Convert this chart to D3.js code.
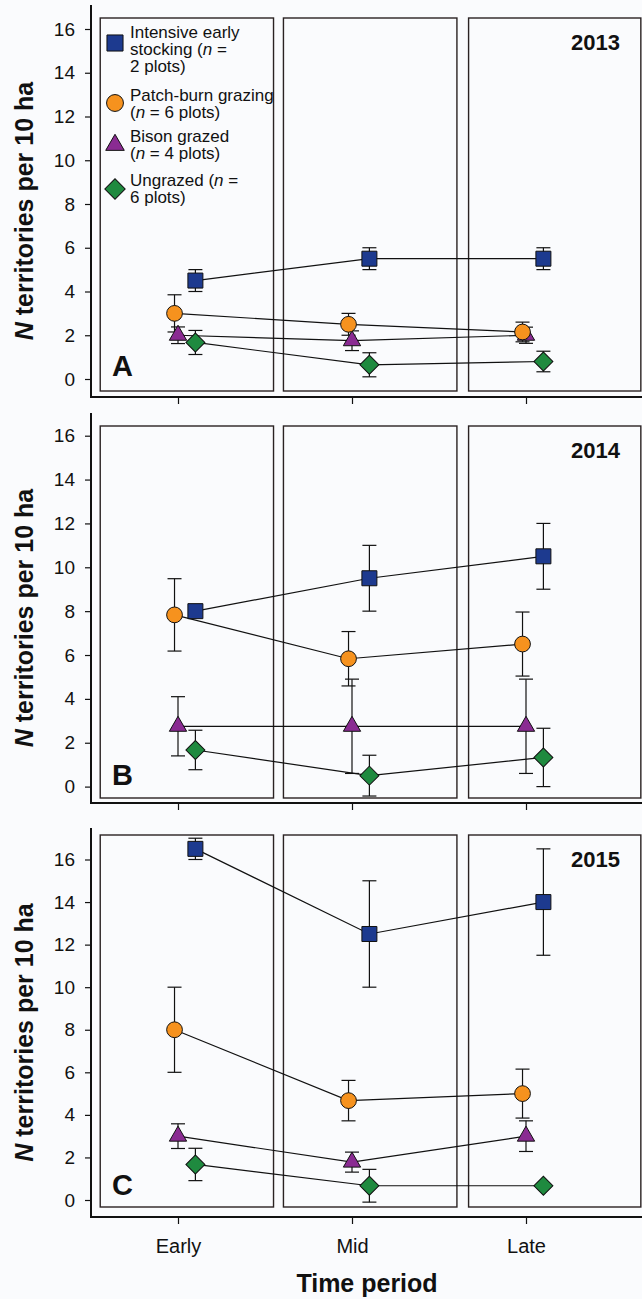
<!DOCTYPE html>
<html>
<head>
<meta charset="utf-8">
<script src="https://cdn.jsdelivr.net/npm/d3@7"></script>
<style>
  body { margin: 0; background: #fafbfd; }
  svg { display: block; font-family: Arial, "Liberation Sans", sans-serif; }
</style>
</head>
<body>
<div id="chart"></div>
<script>
// periods on the x axis, one panel per year
const periods = ['Early', 'Mid', 'Late'];
const years = ['2013', '2014', '2015'];
const panelLetters = ['A', 'B', 'C'];
const yTicks = [0, 2, 4, 6, 8, 10, 12, 14, 16];

// means per year (rows) and period (columns), plus +/- error
const intensiveMean = [[4.5, 5.5, 5.5], [8.0, 9.5, 10.5], [16.5, 12.5, 14.0]];
const intensiveErr  = [[0.5, 0.5, 0.5], [0, 1.5, 1.5], [0.5, 2.5, 2.5]];
const patchMean = [[3.0, 2.5, 2.15], [7.83, 5.83, 6.5], [8.0, 4.67, 5.0]];
const patchErr  = [[0.85, 0.5, 0.45], [1.65, 1.24, 1.46], [2.0, 0.95, 1.15]];
const bisonMean = [[2.0, 1.75, 2.0], [2.75, 2.75, 2.75], [3.0, 1.78, 3.0]];
const bisonErr  = [[0.38, 0.45, 0.37], [1.35, 2.15, 2.15], [0.58, 0.47, 0.72]];
const ungrazedMean = [[1.67, 0.65, 0.8], [1.67, 0.5, 1.33], [1.67, 0.67, 0.67]];
const ungrazedErr  = [[0.55, 0.55, 0.47], [0.9, 0.93, 1.33], [0.76, 0.77, 0]];

const seriesNames = [
  ['Intensive early', 'stocking (|n| =', '2 plots)'],
  ['Patch-burn grazing', '(|n| = 6 plots)'],
  ['Bison grazed', '(|n| = 4 plots)'],
  ['Ungrazed (|n| =', '6 plots)']
];

const width = 642, height = 1299;
const svg = d3.select('#chart').append('svg')
  .attr('width', width).attr('height', height);

// pixel layout of the three stacked panels
const panels = [
  {y16: 29,    y0: 379,  axisTop: 5,   boxTop: 18,  boxBottom: 391,  axisBottom: 397,  letterY: 376,  yearY: 50},
  {y16: 435.7, y0: 786.6, axisTop: 413, boxTop: 426, boxBottom: 798,  axisBottom: 803,  letterY: 785,  yearY: 458},
  {y16: 859.5, y0: 1200, axisTop: 828, boxTop: 835, boxBottom: 1207, axisBottom: 1217, letterY: 1195, yearY: 867}
];
const axisLeftX = 91;
const boxes = [[0.553, 1.549], [1.606, 2.603], [2.67, 3.66]];

const x = d3.scaleLinear().domain([1, 3]).range([178, 526]);

const series = [
  {mean: intensiveMean, err: intensiveErr, dx: 0.1,   color: '#1d3a8f', shape: 'square'},
  {mean: patchMean,     err: patchErr,     dx: -0.02, color: '#f6921e', shape: 'circle'},
  {mean: bisonMean,     err: bisonErr,     dx: 0,     color: '#8a2b92', shape: 'triangle'},
  {mean: ungrazedMean,  err: ungrazedErr,  dx: 0.1,   color: '#1f8a3f', shape: 'diamond'}
];

function symbolPath(shape, big) {
  const k = big ? 1.15 : 1;
  if (shape === 'square') return d3.symbol(d3.symbolSquare, 225 * k)();
  if (shape === 'circle') return d3.symbol(d3.symbolCircle, 195 * k)();
  if (shape === 'triangle') return d3.symbol(d3.symbolTriangle, 130 * k)();
  return d3.symbol(d3.symbolSquare, 180 * k)();
}
function symbolRot(shape) { return shape === 'diamond' ? ' rotate(45)' : ''; }

panels.forEach((p, pi) => {
  const y = d3.scaleLinear().domain([0, 16]).range([p.y0, p.y16]);
  const g = svg.append('g');

  // period boxes
  g.selectAll('rect.box').data(boxes).join('rect')
    .attr('class', 'box')
    .attr('x', d => x(d[0]))
    .attr('width', d => x(d[1]) - x(d[0]))
    .attr('y', p.boxTop)
    .attr('height', p.boxBottom - p.boxTop)
    .attr('fill', 'none')
    .attr('stroke', '#2a2222')
    .attr('stroke-width', 1.4);

  // axes
  const yAxis = d3.axisLeft(y).tickValues(yTicks).tickSize(6).tickPadding(10);
  const gy = g.append('g').attr('transform', `translate(${axisLeftX},0)`).call(yAxis);
  gy.select('.domain').remove();
  gy.selectAll('text').style('font-size', '19px').attr('fill', '#111');
  gy.selectAll('line').attr('stroke', '#111').attr('stroke-width', 1.2);

  const xAxis = d3.axisBottom(x).tickValues([1, 2, 3]).tickSize(7).tickPadding(15)
    .tickFormat((d, i) => pi === 2 ? periods[i] : '');
  const gx = g.append('g').attr('transform', `translate(0,${p.axisBottom})`).call(xAxis);
  gx.select('.domain').remove();
  gx.selectAll('text').style('font-size', '20px').attr('fill', '#111');
  gx.selectAll('line').attr('stroke', '#111').attr('stroke-width', 1.2);

  g.append('line')
    .attr('x1', axisLeftX).attr('x2', axisLeftX)
    .attr('y1', p.axisTop).attr('y2', p.axisBottom)
    .attr('stroke', '#111').attr('stroke-width', 2);
  g.append('line')
    .attr('x1', axisLeftX - 1).attr('x2', width)
    .attr('y1', p.axisBottom).attr('y2', p.axisBottom)
    .attr('stroke', '#111').attr('stroke-width', 2);

  // y label
  const lab = g.append('text')
    .attr('transform', `translate(33,${(p.axisTop + p.axisBottom) / 2 + 10}) rotate(-90)`)
    .attr('text-anchor', 'middle')
    .style('font-size', '25px').style('font-weight', 'bold').attr('fill', '#111');
  lab.append('tspan').style('font-style', 'italic').text('N');
  lab.append('tspan').text(' territories per 10 ha');

  g.append('text').attr('x', 112).attr('y', p.letterY)
    .style('font-size', '29px').style('font-weight', 'bold').attr('fill', '#111')
    .text(panelLetters[pi]);
  g.append('text').attr('x', 620).attr('y', p.yearY).attr('text-anchor', 'end')
    .style('font-size', '22px').style('font-weight', 'bold').attr('fill', '#111')
    .text(years[pi]);

  // lines and error bars first, markers on top
  series.forEach(s => {
    const pts = s.mean[pi].map((v, i) => ({x: i + 1 + s.dx, v: v, e: s.err[pi][i]}));
    g.append('path').datum(pts)
      .attr('d', d3.line().x(d => x(d.x)).y(d => y(d.v)))
      .attr('fill', 'none').attr('stroke', '#111').attr('stroke-width', 1.2);
    const eb = g.append('g').selectAll('g').data(pts.filter(d => d.e > 0)).join('g');
    eb.append('line')
      .attr('x1', d => x(d.x)).attr('x2', d => x(d.x))
      .attr('y1', d => y(d.v - d.e)).attr('y2', d => y(d.v + d.e));
    eb.append('line')
      .attr('x1', d => x(d.x) - 7).attr('x2', d => x(d.x) + 7)
      .attr('y1', d => y(d.v + d.e)).attr('y2', d => y(d.v + d.e));
    eb.append('line')
      .attr('x1', d => x(d.x) - 7).attr('x2', d => x(d.x) + 7)
      .attr('y1', d => y(d.v - d.e)).attr('y2', d => y(d.v - d.e));
    eb.selectAll('line').attr('stroke', '#111').attr('stroke-width', 1.2);
  });
  series.slice().reverse().forEach(s => {
    const pts = s.mean[pi].map((v, i) => ({x: i + 1 + s.dx, v: v}));
    g.append('g').selectAll('path').data(pts).join('path')
      .attr('d', symbolPath(s.shape))
      .attr('transform', d => `translate(${x(d.x)},${y(d.v)})` + symbolRot(s.shape))
      .attr('fill', s.color).attr('stroke', '#111').attr('stroke-width', 1);
  });
});

// legend inside the first box of panel A
const legendMarkY = [43, 103, 145, 189];
const legendTextY = [[37.5, 55, 72], [100.5, 117.5], [141.5, 159], [185.5, 203]];
const legend = svg.append('g');
series.forEach((s, i) => {
  legend.append('path')
    .attr('d', symbolPath(s.shape, true))
    .attr('transform', `translate(115,${legendMarkY[i]})` + symbolRot(s.shape))
    .attr('fill', s.color).attr('stroke', '#111').attr('stroke-width', 1);
  seriesNames[i].forEach((line, j) => {
    const t = legend.append('text').attr('x', 130).attr('y', legendTextY[i][j])
      .style('font-size', '17px').attr('fill', '#111');
    line.split('|').forEach((part, k) => {
      t.append('tspan').style('font-style', k === 1 ? 'italic' : 'normal').text(part);
    });
  });
});

svg.append('text').attr('x', 367).attr('y', 1292).attr('text-anchor', 'middle')
  .style('font-size', '25px').style('font-weight', 'bold').attr('fill', '#111')
  .text('Time period');
</script>
</body>
</html>
